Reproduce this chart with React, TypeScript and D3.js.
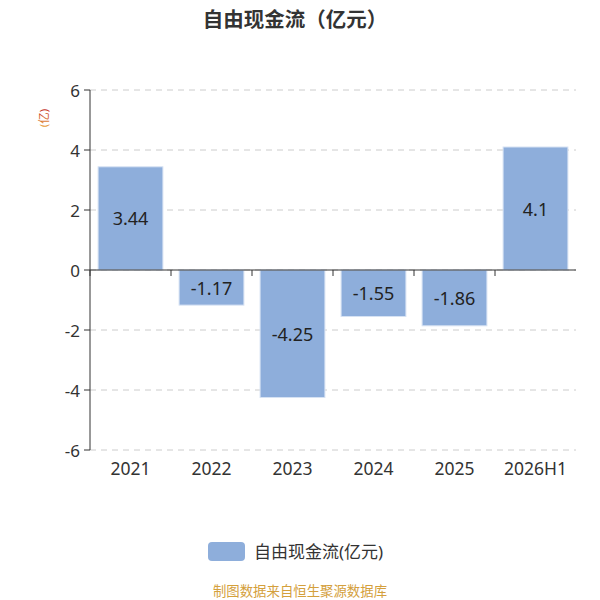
import * as d3 from "d3";

const TITLE = "自由现金流（亿元）";
const SERIES_NAME = "自由现金流(亿元)";
const SOURCE = "制图数据来自恒生聚源数据库";
const categories = ["2021", "2022", "2023", "2024", "2025", "2026H1"];
const values = [3.44, -1.17, -4.25, -1.55, -1.86, 4.1];
const yTicks = [-6, -4, -2, 0, 2, 4, 6];

const WIDTH = 600;
const HEIGHT = 600;
const MARGIN = { top: 90, right: 24, bottom: 150, left: 90 };
const BAR_COLOR = "#8eaedb";
const FONT = "'Noto Sans', 'Noto Sans CJK SC', sans-serif";

export default function App() {
  const boundsWidth = WIDTH - MARGIN.left - MARGIN.right;
  const boundsHeight = HEIGHT - MARGIN.top - MARGIN.bottom;

  const xScale = d3.scaleBand().domain(categories).range([0, boundsWidth]).paddingInner(0.2).paddingOuter(0.1);
  const bandScale = d3.scaleBand().domain(categories).range([0, boundsWidth]);
  const yScale = d3.scaleLinear().domain([-6, 6]).range([boundsHeight, 0]);

  const grid = yTicks.map((t) => (
    <g key={t}>
      <line x1={0} x2={boundsWidth} y1={yScale(t)} y2={yScale(t)} stroke="#ccc" strokeDasharray="6,5" />
      <line x1={-6} x2={0} y1={yScale(t)} y2={yScale(t)} stroke="#333" />
      <text x={-10} y={yScale(t)} textAnchor="end" dominantBaseline="central" fontSize={17} fill="#333">
        {t}
      </text>
    </g>
  ));

  const bars = categories.map((c, i) => {
    const v = values[i];
    const x = xScale(c) ?? 0;
    const y0 = yScale(Math.max(0, v));
    const y1 = yScale(Math.min(0, v));
    return (
      <g key={c}>
        <rect x={x} y={y0} width={xScale.bandwidth()} height={y1 - y0} fill={BAR_COLOR} stroke="#d6e2f3" strokeWidth={1} />
        <text x={x + xScale.bandwidth() / 2} y={(y0 + y1) / 2} textAnchor="middle" dominantBaseline="central" fontSize={18} fill="#222">
          {v}
        </text>
      </g>
    );
  });

  const xTicks = categories.map((c) => (
    <g key={c}>
      <line x1={bandScale(c)} x2={bandScale(c)} y1={yScale(0)} y2={yScale(0) + 6} stroke="#333" />
      <text x={(bandScale(c) ?? 0) + bandScale.bandwidth() / 2} y={boundsHeight + 18} textAnchor="middle" dominantBaseline="central" fontSize={17.5} fill="#333">
        {c}
      </text>
    </g>
  ));

  return (
    <svg width={WIDTH} height={HEIGHT} style={{ position: "absolute", left: 0, top: 0, fontFamily: FONT }}>
      <defs>
        <linearGradient id="unitGrad" x1="0" y1="0" x2="1" y2="0">
          <stop offset="0%" stopColor="#e8a040" />
          <stop offset="100%" stopColor="#c0281c" />
        </linearGradient>
      </defs>
      <rect width={WIDTH} height={HEIGHT} fill="#fff" />
      <text x={295} y={19} textAnchor="middle" dominantBaseline="central" fontSize={20.5} fontWeight="bold" fill="#333">
        {TITLE}
      </text>
      <text transform="translate(43,118) rotate(-90)" textAnchor="middle" dominantBaseline="central" fontSize={11.5} fill="url(#unitGrad)">
        (亿)
      </text>
      <g transform={`translate(${MARGIN.left},${MARGIN.top})`}>
        {grid}
        {bars}
        <line x1={0} x2={0} y1={0} y2={boundsHeight} stroke="#333" />
        <line x1={0} x2={boundsWidth} y1={yScale(0)} y2={yScale(0)} stroke="#333" />
        {xTicks}
      </g>
      <rect x={208} y={542} width={37} height={19} rx={4} fill={BAR_COLOR} />
      <text x={254} y={551} dominantBaseline="central" fontSize={17} fill="#333">
        {SERIES_NAME}
      </text>
      <text x={300} y={591} textAnchor="middle" dominantBaseline="central" fontSize={13.4} fill="#d4a03c">
        {SOURCE}
      </text>
    </svg>
  );
}
